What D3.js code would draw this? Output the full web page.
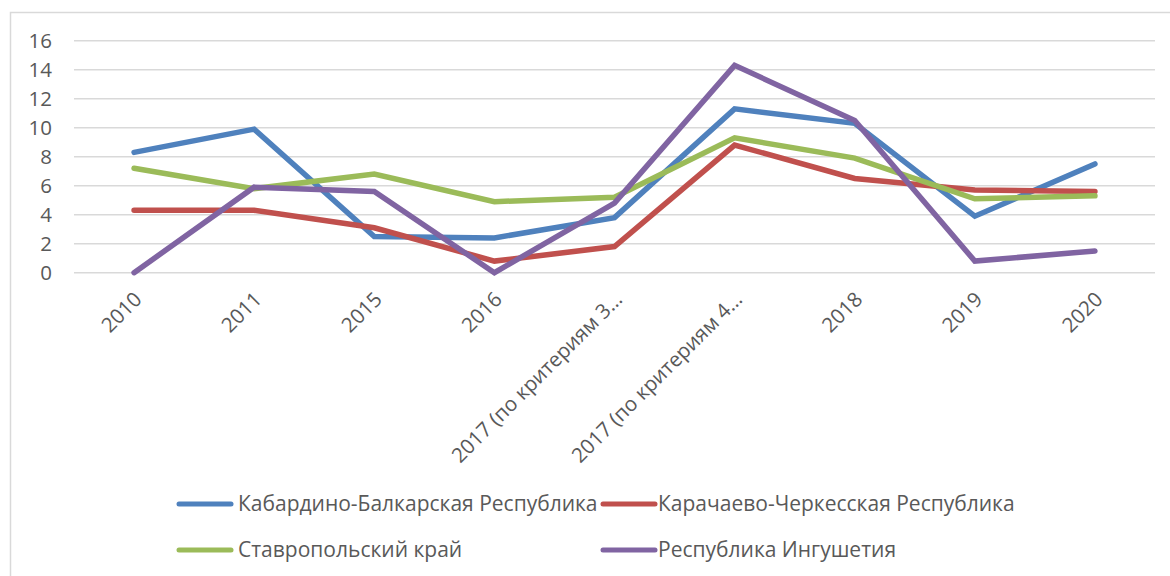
<!DOCTYPE html>
<html><head><meta charset="utf-8">
<script src="https://cdn.jsdelivr.net/npm/d3@7"></script>
<style>
html,body{margin:0;padding:0;background:#fff;}
svg{display:block;}
text{font-family:"Open Sans",sans-serif;fill:#595959;}
</style></head>
<body><svg id="c" width="1170" height="576"></svg>
<script>
const categories = ["2010","2011","2015","2016","2017 (по критериям 3…","2017 (по критериям 4…","2018","2019","2020"];
const seriesNames = ["Кабардино-Балкарская Республика","Карачаево-Черкесская Республика","Ставропольский край","Республика Ингушетия"];
const kbr  = [8.3, 9.9, 2.5, 2.4, 3.8, 11.3, 10.3, 3.9, 7.5];
const kchr = [4.3, 4.3, 3.1, 0.8, 1.8, 8.8, 6.5, 5.7, 5.6];
const stav = [7.2, 5.8, 6.8, 4.9, 5.2, 9.3, 7.9, 5.1, 5.3];
const ing  = [0, 5.9, 5.6, 0, 4.8, 14.3, 10.5, 0.8, 1.5];
const yTicks = [0,2,4,6,8,10,12,14,16];
const colors = ["#4F81BD","#C0504D","#9BBB59","#8064A2"];
const seriesValues = [kbr, kchr, stav, ing];

const svg = d3.select("#c");
svg.append("rect").attr("x",10.5).attr("y",12.5).attr("width",1300).attr("height",700)
  .attr("fill","#fff").attr("stroke","#d9d9d9").attr("stroke-width",1.5);

const x = d3.scaleBand().domain(categories).range([74,1155]);
const y = d3.scaleLinear().domain([0,16]).range([272.7,40.7]);

// gridlines
svg.append("g").selectAll("line").data(yTicks).join("line")
  .attr("x1",74).attr("x2",1155)
  .attr("y1",d=>y(d)).attr("y2",d=>y(d))
  .attr("stroke","#d9d9d9").attr("stroke-width",1.5);

// y axis labels
const yAxis = d3.axisLeft(y).tickValues(yTicks).tickSize(0).tickPadding(0);
const gy = svg.append("g").attr("transform","translate(52,0)").call(yAxis);
gy.select(".domain").remove();
gy.selectAll("text").attr("font-size",20.5).style("font-family","'Open Sans',sans-serif").attr("fill","#595959").attr("dy","0.35em");

// x axis labels
const xAxis = d3.axisBottom(x).tickSize(0).tickPadding(0);
const gx = svg.append("g").attr("transform","translate(0,272.7)").call(xAxis);
gx.select(".domain").remove();
gx.selectAll("text")
  .attr("font-size",20.5).style("font-family","'Open Sans',sans-serif").attr("fill","#595959")
  .attr("text-anchor","end").attr("x",0).attr("y",0).attr("dy",0)
  .attr("transform","translate(9,28) rotate(-45)");

// lines
const line = d3.line().x((d,i)=>x(categories[i])+x.bandwidth()/2).y(d=>y(d));
svg.append("g").selectAll("path").data(seriesValues).join("path")
  .attr("d",d=>line(d)).attr("fill","none")
  .attr("stroke",(d,i)=>colors[i]).attr("stroke-width",5.5)
  .attr("stroke-linejoin","miter").attr("stroke-linecap","round");

// legend
const legPos = [[179,504],[603,504],[179,550],[603,550]];
const lg = svg.append("g").selectAll("g").data(seriesNames).join("g")
  .attr("transform",(d,i)=>`translate(${legPos[i][0]},${legPos[i][1]})`);
lg.append("line").attr("x1",0).attr("x2",52).attr("y1",0).attr("y2",0)
  .attr("stroke",(d,i)=>colors[i]).attr("stroke-width",5).attr("stroke-linecap","round");
lg.append("text").attr("x",(d,i)=>i%2===0?59:55).attr("y",0).attr("dy","0.35em")
  .attr("font-size",21).text(d=>d);
</script></body></html>
